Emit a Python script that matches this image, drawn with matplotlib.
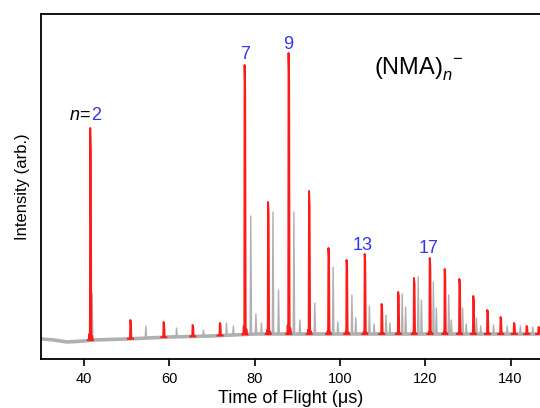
import numpy as np
import matplotlib.pyplot as plt

plt.rcParams["font.family"] = ["Liberation Sans", "DejaVu Sans"]
plt.rcParams["mathtext.fontset"] = "custom"
plt.rcParams["mathtext.rm"] = "Liberation Sans"
plt.rcParams["mathtext.it"] = "Liberation Sans:italic"

# baseline level of the trace (arb.)
base_t = [30, 33, 36, 40, 42, 50, 60, 70, 80, 147]
base_v = [-5, -6, -8, -7, -6, -5, -3, -2, 0, 0]

# (NMA)n- cluster peaks, n = 2..25 (time in us, peak top in arb.)
red_n = list(range(2, 26))
red_t = [41.5, 50.9, 58.7, 65.5, 71.9, 77.7, 83.2, 88.0, 92.8, 97.35,
         101.6, 105.85, 109.8, 113.7, 117.4, 121.1, 124.6, 128.05, 131.3,
         134.6, 137.7, 140.85, 143.8, 146.6]
red_top = [206, 14, 12, 9, 11, 269, 132, 281, 143, 86, 74, 80, 30, 42, 56,
           76, 65, 55, 38, 24, 17, 11, 8, 7]

# other (gray) peaks
gray_t = [41.9, 54.5, 61.7, 68.0, 73.4, 75.0, 79.1, 80.3, 81.6, 84.3, 85.6,
          89.2, 90.6, 94.1, 98.4, 99.5, 102.8, 103.7, 106.9, 108.0, 110.8,
          111.7, 114.6, 115.4, 118.35, 119.1, 121.9, 122.6, 125.5, 126.1,
          128.75, 129.6, 132.0, 133.0, 136.0, 139.2, 142.3, 145.2]
gray_top = [40, 8, 6, 4, 11, 8, 118, 20, 11, 122, 44, 122, 14, 31, 67, 12,
            39, 16, 28, 10, 19, 11, 40, 27, 57, 34, 52, 26, 39, 14, 26, 10,
            16, 8, 9, 8, 8, 7]

labels = ["2", "7", "9", "13", "17"]
label_y = [214, 275, 285, 84, 81]
label_dx = [0.1, 0.0, -0.1, -0.5, -0.4]


def spikes(ts, tops, shape):
    xs, ys = [], []
    for t, top in zip(ts, tops):
        foot = np.interp(t, base_t, base_v)
        for dx, frac in shape:
            xs.append(t + dx)
            ys.append(foot + frac * (top - foot))
        xs.append(np.nan)
        ys.append(np.nan)
    return xs, ys


fig = plt.figure(figsize=(5.4, 4.08), dpi=100)
ax = fig.add_axes([0.0754, 0.1194, 0.9246, 0.8463])

gray = "#b0b0b0"
ax.plot(base_t, base_v, color=gray, lw=2.6, solid_capstyle="butt")
gx, gy = spikes(gray_t, gray_top, [(-0.15, 0), (0, 1), (0.18, 0)])
ax.plot(gx, gy, color=gray, lw=1.0)

red_shape = [(-0.6, 0), (-0.35, 0.0), (-0.25, 0.03), (-0.12, 0.0),
             (-0.05, 1), (0.08, 0.9), (0.2, 0.0), (0.35, 0.02), (0.6, 0)]
rx, ry = spikes(red_t, red_top, red_shape)
ax.plot(rx, ry, color="#ff1a1a", lw=1.4)

blue = "#3535f0"
for lab, y, dx in zip(labels, label_y, label_dx):
    t = red_t[red_n.index(int(lab))]
    if lab == "2":
        ax.text(t + dx, y, "2", color=blue, fontsize=13, ha="left", va="baseline")
        ax.text(t + dx, y, "$n$=", color="black", fontsize=13, ha="right", va="baseline")
    else:
        ax.text(t + dx, y, lab, color=blue, fontsize=13, ha="center", va="baseline")

ax.text(108.0, 259, r"(NMA)$_{n}^{\;\;-}$", fontsize=17, ha="left", va="baseline")

ax.set_xlim(29.85, 146.9)
ax.set_ylim(-25.3, 320)
ax.set_xticks([40, 60, 80, 100, 120, 140])
ax.set_yticks([])
ax.tick_params(axis="x", direction="out", length=5, width=1.2, labelsize=10.5, pad=4)
for side in ["left", "top", "bottom"]:
    ax.spines[side].set_linewidth(1.3)
ax.spines["right"].set_visible(False)

ax.set_xlabel("Time of Flight (\u03bcs)", fontsize=13, labelpad=3)
ax.set_ylabel("Intensity (arb.)", fontsize=12, labelpad=8)

fig.savefig("out.png", dpi=100)
